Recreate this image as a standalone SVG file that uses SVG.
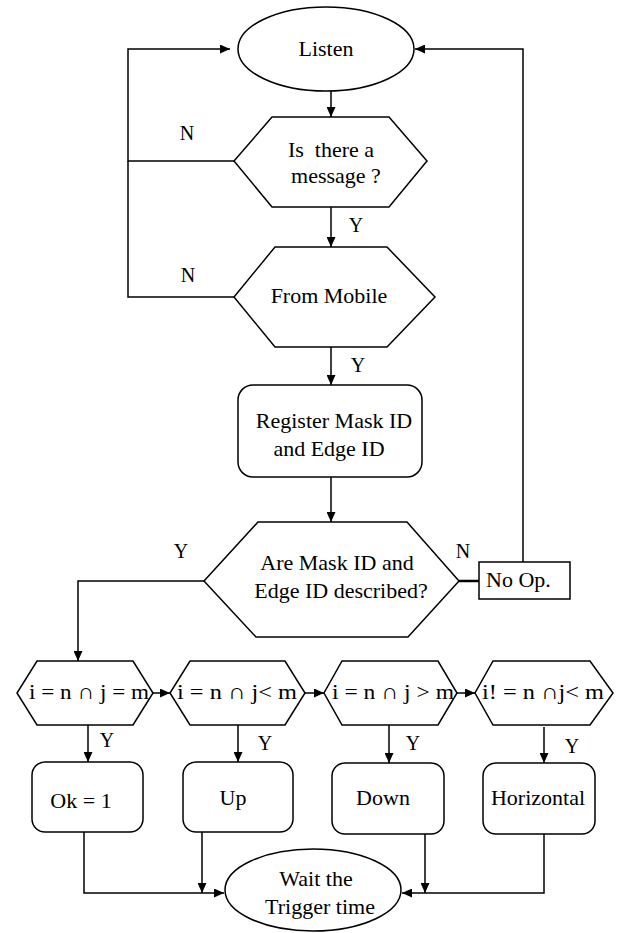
<svg xmlns="http://www.w3.org/2000/svg" width="619" height="933" viewBox="0 0 619 933" font-family="'Liberation Serif', 'DejaVu Serif', serif">
<defs>
<marker id="arr" markerUnits="userSpaceOnUse" markerWidth="11" markerHeight="9" refX="10" refY="4.5" orient="auto">
<path d="M0,0 L10,4.5 L0,9 z" fill="#000"/>
</marker>
<style>
.s{fill:#fff;stroke:#000;stroke-width:1.5}
.c{fill:none;stroke:#000;stroke-width:1.5}
.a{marker-end:url(#arr)}
text{font-family:'Liberation Serif','DejaVu Serif',serif;font-size:22px;fill:#000}
.m{text-anchor:middle}
.l{font-size:20px}
</style>
</defs>
<rect width="619" height="933" fill="#fff"/>

<g id="connectors">
<path class="c a" d="M331,91 L331,117"/>
<path class="c a" d="M331,207 L331,247"/>
<path class="c a" d="M331,347 L331,385"/>
<path class="c a" d="M331,477 L331,522"/>
<path class="c a" d="M234,161 L128,161 L128,49 L230,49"/>
<path class="c" d="M234,297 L128,297 L128,161"/>
<path class="c" d="M459,581 L479,581" style="stroke-width:2.5"/>
<path class="c a" d="M523,562 L523,49 L415,49"/>
<path class="c a" d="M204,581 L78,581 L78,661"/>
<path class="c a" d="M153,693 L170,693"/>
<path class="c a" d="M305,693 L324,693"/>
<path class="c a" d="M457,693 L475,693"/>
<path class="c a" d="M88,725 L88,762"/>
<path class="c a" d="M238,725 L238,762"/>
<path class="c a" d="M389,725 L389,763"/>
<path class="c a" d="M544,727 L544,763"/>
<path class="c a" d="M84,832 L84,893 L224,893"/>
<path class="c a" d="M202,832 L202,893"/>
<path class="c a" d="M425,834 L425,893"/>
<path class="c a" d="M544,834 L544,893 L402,893"/>
<text class="l m" x="187" y="140">N</text>
<text class="l m" x="188" y="282">N</text>
<text class="l m" x="356" y="232">Y</text>
<text class="l m" x="358" y="372">Y</text>
<text class="l m" x="181" y="558">Y</text>
<text class="l m" x="463" y="558">N</text>
<text class="l m" x="107" y="747">Y</text>
<text class="l m" x="265" y="750">Y</text>
<text class="l m" x="413" y="750">Y</text>
<text class="l m" x="572" y="753">Y</text>
</g>

<g id="listen">
<ellipse class="s" cx="326" cy="49" rx="88" ry="42"/>
<text class="m" x="326" y="56">Listen</text>
</g>

<g id="is-message">
<polygon class="s" points="272,117 389,117 427,161 389,207 272,207 234,161"/>
<text class="m" x="331" y="157" xml:space="preserve">Is  there a</text>
<text class="m" x="336" y="183">message ?</text>
</g>

<g id="from-mobile">
<polygon class="s" points="275,247 387,247 435,297 387,347 275,347 234,297"/>
<text class="m" x="329" y="303">From Mobile</text>
</g>

<g id="register">
<rect class="s" x="238" y="385" width="184" height="92" rx="15"/>
<text class="m" x="334" y="428">Register Mask ID</text>
<text class="m" x="329" y="456">and Edge ID</text>
</g>

<g id="described">
<polygon class="s" points="258,522 407,522 459,581 408,637 256,637 204,581"/>
<text class="m" x="337" y="570">Are Mask ID and</text>
<text class="m" x="341" y="598">Edge ID described?</text>
</g>

<g id="no-op">
<rect class="s" x="479" y="562" width="91" height="37"/>
<text x="486" y="587">No Op.</text>
</g>

<g id="cond-1">
<polygon class="s" points="37,661 133,661 153,693 133,725 37,725 17,693"/>
<text class="m" x="89" y="699" textLength="120" lengthAdjust="spacingAndGlyphs">i = n ∩ j = m</text>
</g>
<g id="cond-2">
<polygon class="s" points="190,661 285,661 305,693 285,725 190,725 170,693"/>
<text class="m" x="237" y="699" textLength="120" lengthAdjust="spacingAndGlyphs">i = n ∩ j&lt; m</text>
</g>
<g id="cond-3">
<polygon class="s" points="342,661 438,661 457,693 438,725 342,725 324,693"/>
<text class="m" x="393" y="699" textLength="122" lengthAdjust="spacingAndGlyphs">i = n ∩ j &gt; m</text>
</g>
<g id="cond-4">
<polygon class="s" points="493,661 590,661 613,693 590,725 493,725 475,693"/>
<text class="m" x="543" y="699" textLength="122" lengthAdjust="spacingAndGlyphs">i! = n ∩j&lt; m</text>
</g>

<g id="ok">
<rect class="s" x="32" y="762" width="111" height="70" rx="13"/>
<text class="m" x="81" y="808">Ok = 1</text>
</g>
<g id="up">
<rect class="s" x="183" y="762" width="110" height="70" rx="13"/>
<text class="m" x="233" y="805">Up</text>
</g>
<g id="down">
<rect class="s" x="332" y="763" width="112" height="71" rx="13"/>
<text class="m" x="383" y="805">Down</text>
</g>
<g id="horizontal">
<rect class="s" x="483" y="763" width="112" height="71" rx="13"/>
<text class="m" x="538" y="805">Horizontal</text>
</g>

<g id="wait">
<ellipse class="s" cx="313" cy="890" rx="88" ry="41"/>
<text class="m" x="316" y="886">Wait the</text>
<text class="m" x="320" y="914">Trigger time</text>
</g>
</svg>
